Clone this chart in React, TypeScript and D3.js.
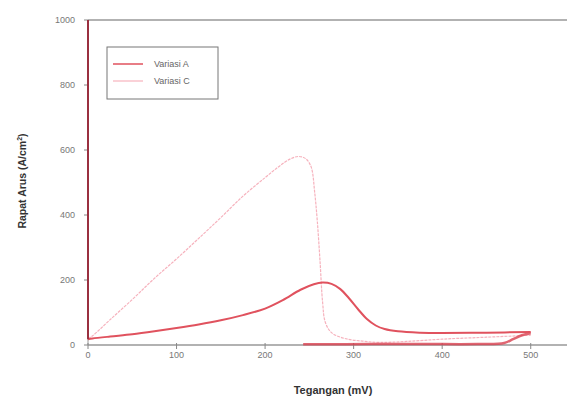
import React from 'react';
import * as d3 from 'd3';

// tegangan (mV), rapat arus
const variasiA: [number, number][] = [
  [0, 18], [5, 20], [25, 26], [50, 33], [75, 42], [100, 52], [125, 63], [150, 76],
  [175, 92], [200, 112], [220, 138], [240, 170], [255, 187], [265, 192], [275, 188],
  [285, 172], [295, 143], [305, 110], [315, 80], [325, 60], [335, 49], [350, 42],
  [375, 38], [400, 37], [450, 38], [500, 40],
];
const variasiABalik: [number, number][] = [
  [500, 36], [490, 30], [480, 18], [470, 6], [440, 3], [380, 3], [320, 3], [280, 2], [243, 2],
];
const variasiASpike: [number, number][] = [[0, 1000], [0, 18]];
const variasiC: [number, number][] = [
  [0, 20], [5, 28], [25, 78], [50, 140], [75, 205], [100, 265], [125, 328],
  [150, 392], [175, 458], [200, 515], [215, 548], [228, 572], [238, 580],
  [246, 573], [252, 548], [256, 470], [259, 380], [262, 260], [265, 130],
  [268, 70], [275, 38], [290, 20], [310, 12], [330, 8], [360, 11], [400, 18],
  [450, 24], [500, 30],
];
const xTicks = [0, 100, 200, 300, 400, 500];
const yTicks = [0, 200, 400, 600, 800, 1000];
const seriesNames = ['Variasi A', 'Variasi C'];

export default function App() {
  const x = d3.scaleLinear().domain([0, 550]).range([88, 575]);
  const y = d3.scaleLinear().domain([0, 1000]).range([345, 20]);
  const gen = d3.line<[number, number]>().x(d => x(d[0])).y(d => y(d[1])).curve(d3.curveCatmullRom);
  const lin = d3.line<[number, number]>().x(d => x(d[0])).y(d => y(d[1]));

  const colA = '#e0525e';
  const colC = '#f6b2bd';
  const font = '"Liberation Sans", Arial, sans-serif';

  return (
    <svg width={567} height={401} style={{ position: 'absolute', left: 0, top: 0, background: '#fff' }}>
      {/* frame */}
      <line x1={88} x2={575} y1={20} y2={20} stroke="#999" strokeWidth={1.5} />
      <line x1={88} x2={575} y1={345} y2={345} stroke="#999" strokeWidth={1.5} />
      <line x1={88} x2={88} y1={20} y2={345} stroke="#999" strokeWidth={1} />

      {yTicks.map(t => (
        <g key={'y' + t}>
          <line x1={84} x2={88} y1={y(t)} y2={y(t)} stroke="#888" />
          <text x={75} y={y(t)} dy="0.35em" textAnchor="end" fontSize={9} fill="#777" fontFamily={font}>{t}</text>
        </g>
      ))}
      {xTicks.map(t => (
        <g key={'x' + t}>
          <line x1={x(t)} x2={x(t)} y1={343} y2={349} stroke="#888" />
          <text x={x(t)} y={355} dy="0.35em" textAnchor="middle" fontSize={9} fill="#777" fontFamily={font}>{t}</text>
        </g>
      ))}

      <text x={333} y={394} textAnchor="middle" fontSize={11} fontWeight="bold" fill="#333" fontFamily={font}>Tegangan (mV)</text>
      <text transform="translate(26,181) rotate(-90)" textAnchor="middle" fontSize={10.5} fontWeight="bold" fill="#333" fontFamily={font}>
        Rapat Arus (A/cm<tspan dy={-4} fontSize={7}>2</tspan><tspan dy={4}>)</tspan>
      </text>

      {/* data */}
      <path d={gen(variasiC) ?? ''} fill="none" stroke={colC} strokeWidth={1.2} strokeDasharray="3 1" />
      <path d={gen(variasiABalik) ?? ''} fill="none" stroke="#d8404f" strokeWidth={2.5} opacity={0.8} />
      <path d={gen(variasiA) ?? ''} fill="none" stroke={colA} strokeWidth={2} />
      <path d={lin(variasiASpike) ?? ''} fill="none" stroke="#9a3040" strokeWidth={2} />

      {/* legend */}
      <rect x={107} y={47} width={111} height={52} fill="#fff" stroke="#777" strokeWidth={1} />
      {seriesNames.map((n, i) => (
        <g key={n}>
          <line x1={113} x2={143} y1={64 + i * 17} y2={64 + i * 17} stroke={i === 0 ? colA : colC} strokeWidth={i === 0 ? 1.5 : 1.2} />
          <text x={154} y={64 + i * 17} dy="0.35em" fontSize={9} fill="#666" fontFamily={font}>{n}</text>
        </g>
      ))}
    </svg>
  );
}
